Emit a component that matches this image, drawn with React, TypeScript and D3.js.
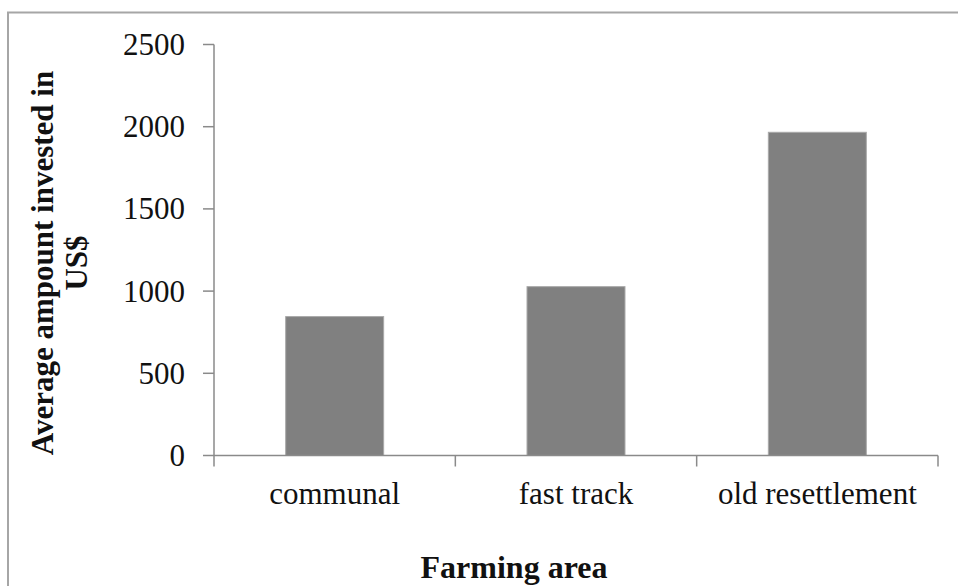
import React from "react";
import * as d3 from "d3";

// Average amount invested per farming area (US$)
const categories: string[] = ["communal", "fast track", "old resettlement"];
const amounts: number[] = [845, 1027, 1966];
const yTicks: number[] = [0, 500, 1000, 1500, 2000, 2500];

const xTitle = "Farming area";
const yTitleLines: string[] = ["Average ampount invested in", "US$"];

const W = 958;
const H = 586;
const plot = { left: 214, right: 938, top: 44.5, bottom: 455.5 };
const FONT = "'Liberation Serif', 'Times New Roman', serif";
const AXIS = "#8a8a8a";

export default function App() {
  const x = d3
    .scaleBand<string>()
    .domain(categories)
    .range([plot.left, plot.right])
    .paddingInner(0.594)
    .paddingOuter(0.297);
  const y = d3.scaleLinear().domain([0, 2500]).range([plot.bottom, plot.top]);

  const step = x.step();
  const boundaries = d3.range(categories.length + 1).map((i) => plot.left + i * step);

  return (
    <svg
      width={W}
      height={H}
      style={{ position: "absolute", left: 0, top: 0, background: "#fff" }}
      fontFamily={FONT}
    >
      {/* chart frame */}
      <rect x={8} y={12.5} width={1000} height={700} fill="#fff" stroke="#a6a6a6" strokeWidth={2} />

      {/* bars */}
      {categories.map((c, i) => (
        <rect
          key={c}
          x={x(c)!}
          y={y(amounts[i])}
          width={x.bandwidth()}
          height={y(0) - y(amounts[i])}
          fill="#808080"
          stroke="#a9a9a9"
          strokeWidth={1}
        />
      ))}

      {/* y axis */}
      <line x1={plot.left} x2={plot.left} y1={plot.top} y2={plot.bottom} stroke={AXIS} strokeWidth={1.5} />
      {yTicks.map((t) => (
        <g key={t}>
          <line x1={plot.left - 11} x2={plot.left} y1={y(t)} y2={y(t)} stroke={AXIS} strokeWidth={1.5} />
          <text
            x={plot.left - 29}
            y={y(t)}
            textAnchor="end"
            dominantBaseline="central"
            fontSize={31}
            fill="#111"
          >
            {t}
          </text>
        </g>
      ))}

      {/* x axis */}
      <line x1={plot.left} x2={plot.right} y1={plot.bottom} y2={plot.bottom} stroke={AXIS} strokeWidth={1.5} />
      {boundaries.map((bx, i) => (
        <line key={i} x1={bx} x2={bx} y1={plot.bottom} y2={plot.bottom + 11} stroke={AXIS} strokeWidth={1.5} />
      ))}
      {categories.map((c) => (
        <text
          key={c}
          x={x(c)! + x.bandwidth() / 2}
          y={504}
          textAnchor="middle"
          fontSize={31}
          fill="#111"
        >
          {c}
        </text>
      ))}

      {/* axis titles */}
      <text x={514} y={578} textAnchor="middle" fontSize={32} fontWeight="bold" fill="#111">
        {xTitle}
      </text>
      <g transform="translate(42, 263) rotate(-90)">
        {yTitleLines.map((line, i) => (
          <text
            key={i}
            x={0}
            y={i * 34}
            textAnchor="middle"
            dominantBaseline="central"
            fontSize={31}
            fontWeight="bold"
            fill="#111"
          >
            {line}
          </text>
        ))}
      </g>
    </svg>
  );
}
